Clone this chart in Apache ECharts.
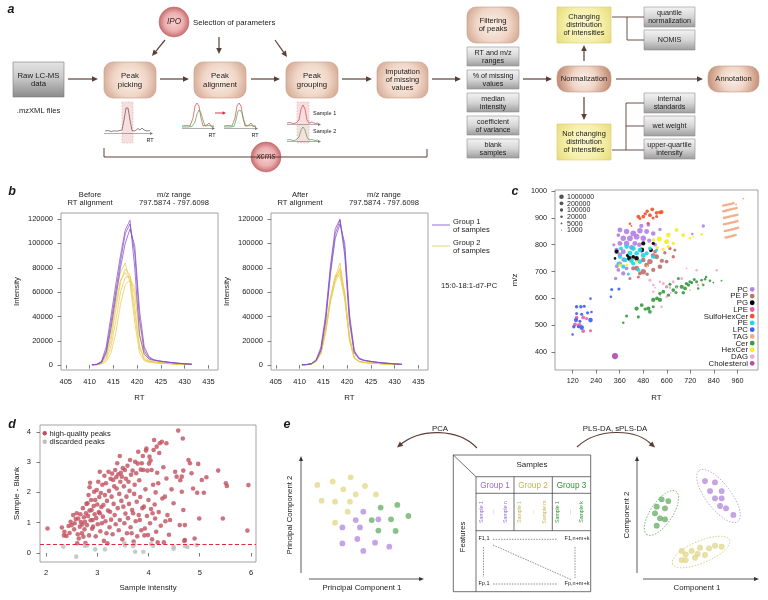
<!DOCTYPE html>
<html><head><meta charset="utf-8">
<script src="https://cdn.jsdelivr.net/npm/echarts@6.0.0/dist/echarts.min.js"></script>
<style>html,body{margin:0;padding:0;background:#fff}#chart{width:768px;height:600px}</style>
</head><body><div id="chart"></div>
<script>
// ================= DATA =================
// Panel b: chromatograms (RT grid + intensity per sample)
const rtGrid = [410.5,411.5,412.5,413.5,414.5,415.5,416.5,417.5,418.5,419.5,420.5,421.5,422.5,423.5,424.5,425.5,426.5,427.5,428.5,429.5,430.5,431.5];
const beforeGroup1 = [
  [300,700,3000,15000,40000,66000,90000,111000,119000,80000,25000,9000,5000,4000,3300,2800,2300,1900,1500,1200,900,700],
  [300,600,2500,12000,35000,60000,85000,108000,116000,92000,38000,12000,6000,4200,3500,2900,2400,2000,1600,1300,1000,800],
  [300,500,2000,10000,30000,55000,80000,100000,112000,98000,45000,15000,7000,4500,3600,3000,2500,2000,1600,1300,1000,800]
];
const beforeGroup2 = [
  [200,500,2500,10000,30000,58000,76000,84000,68000,35000,10000,3500,2500,2000,1700,1400,1200,1000,800,700,600,500],
  [200,400,1500,6000,20000,45000,68000,79000,74000,48000,16000,5000,3000,2300,1900,1600,1300,1100,900,700,600,500],
  [200,400,1200,4500,15000,36000,60000,72000,73000,58000,25000,7000,3500,2500,2000,1700,1400,1100,900,700,600,500],
  [200,300,1000,3000,10000,26000,50000,66000,70000,64000,35000,11000,4500,3000,2300,1800,1500,1200,1000,800,600,500],
  [200,400,1800,7500,24000,50000,70000,76000,70000,42000,14000,4500,2800,2100,1800,1500,1200,1000,800,700,600,500]
];
const afterGroup1 = [
  [300,500,1200,4000,13000,38000,78000,108000,119000,90000,35000,10000,5000,3800,3200,2700,2200,1800,1500,1200,900,700],
  [300,500,1300,4500,15000,42000,82000,112000,120000,95000,38000,11000,5500,4000,3300,2700,2200,1800,1500,1200,900,700],
  [300,500,1100,3800,12000,36000,75000,104000,116000,100000,42000,12000,5800,4200,3400,2800,2300,1900,1500,1200,900,700]
];
const afterGroup2 = [
  [200,400,1000,3500,11000,30000,56000,72000,84000,58000,22000,6000,3000,2300,1900,1600,1300,1100,900,700,600,500],
  [200,400,1000,3300,10000,28000,54000,70000,80000,56000,21000,6000,3000,2300,1900,1600,1300,1100,900,700,600,500],
  [200,400,900,3000,9500,27000,52000,68000,76000,60000,24000,6500,3100,2300,1900,1600,1300,1100,900,700,600,500],
  [200,400,950,3200,10000,28000,53000,74000,73000,54000,20000,5500,2900,2200,1800,1500,1300,1100,900,700,600,500],
  [200,400,1000,3400,10500,29000,55000,71000,78000,57000,22000,6000,3000,2300,1900,1600,1300,1100,900,700,600,500]
];
const rtTicks = [405,410,415,420,425,430,435];
const intensityTicks = [0,20000,40000,60000,80000,100000,120000];

// Panel c: lipid features [RT, m/z, intensity]
const lipidClasses = ['PC','PE P','PG','LPE','SulfoHexCer','PE','LPC','TAG','Cer','HexCer','DAG','Cholesterol'];
const lipidPC = [[361,855,2e6],[395,849,5e6],[429,842,1e7],[463,852,5e6],[497,849,2e6],[531,842,1e6],[378,824,5e6],[412,824,1e7],[446,830,1e7],[480,824,5e6],[361,805,2e6],[395,805,5e6],[437,805,2e6],[344,780,1e6],[378,774,2e6],[361,730,5e5],[353,706,2e5],[339,674,1e5],[378,693,5e5],[395,712,2e5],[565,857,1e5],[506,874,2e5],[353,836,2e5],[786,870,1e5],[361,762,1e6],[420,790,2e6],[460,800,1e6],[510,815,5e5],[330,800,5e4],[470,870,5e5],[540,800,2e5],[380,745,1e6],[345,720,2e5],[730,840,2e4]];
const lipidPEP = [[480,743,1e6],[514,737,5e6],[548,755,2e6],[565,718,1e6],[480,699,5e6],[446,712,2e6],[531,706,5e5],[497,724,2e6],[599,737,2e5],[633,755,1e5],[641,780,5e4],[412,674,5e4],[463,693,2e5],[429,712,5e5],[616,786,1e5],[540,774,2e5],[530,760,1e6],[575,740,5e5],[455,680,5e4],[500,690,1e5],[590,770,1e5]];
const lipidPG = [[344,774,5e5],[336,749,2e4],[409,749,1e6],[446,749,1e6],[472,780,2e6],[480,805,5e5],[519,780,5e5],[531,805,1e5],[429,755,2e5],[400,760,1e5]];
const lipidLPE = [[140,528,2e5],[174,529,2e5],[154,500,1e6],[132,503,2e5],[174,478,2e5],[211,479,5e4],[191,525,5e4]];
const lipidSulfoHexCer = [[412,878,2e4],[455,905,2e5],[526,932,2e5],[565,921,2e5],[505,880,5e4],[463,898,5e4],[514,910,2e5],[548,919,2e5],[548,905,5e4],[574,922,2e5],[490,915,1e5],[480,905,2e5],[420,870,5000],[530,900,5e4],[500,925,1e5]];
const lipidPE = [[395,793,1e6],[429,786,2e6],[463,780,1e6],[412,768,2e6],[446,768,1e6],[361,755,5e5],[387,743,1e6],[378,718,5e5],[404,691,5e4],[463,737,1e6],[497,768,5e5],[531,755,5e5],[514,786,2e5],[455,706,2e5],[429,730,5e5],[353,730,2e5],[548,780,5e4],[366,786,2e5],[480,760,2e6],[420,740,1e6]];
const lipidLPC = [[140,569,1e5],[162,569,1e5],[179,571,5e4],[140,544,5e4],[166,541,5e4],[196,546,5e4],[216,549,2e4],[137,519,5e5],[157,515,5e4],[211,519,1e6],[126,494,1e5],[149,494,5e4],[166,491,1e6],[120,465,2e4],[211,599,2e4],[319,633,5e4],[356,635,5e4],[315,606,2e4]];
const lipidTAG = [[888,946,2e4],[897,947,2e4],[905,949,2e4],[914,950,2e4],[922,952,2e4],[930,953,2e4],[939,955,2e4],
  [888,925,2e4],[897,926,2e4],[905,928,2e4],[914,929,2e4],[922,931,2e4],[930,932,2e4],[939,934,2e4],[948,935,2e4],[956,937,2e4],
  [892,900,2e4],[900,901,2e4],[909,903,2e4],[917,904,2e4],[926,906,2e4],[934,907,2e4],[943,909,2e4],[951,910,2e4],[960,912,2e4],
  [892,876,2e4],[900,877,2e4],[909,879,2e4],[917,880,2e4],[926,882,2e4],[934,883,2e4],[943,885,2e4],[951,886,2e4],[960,888,2e4],
  [896,851,2e4],[904,852,2e4],[913,854,2e4],[921,855,2e4],[930,857,2e4],[938,858,2e4],[947,860,2e4],[955,861,2e4],[964,863,2e4],
  [900,827,2e4],[908,828,2e4],[917,830,2e4],[925,831,2e4],[934,833,2e4],[942,834,2e4],[951,836,2e4],
  [990,972,5000],[953,950,5000]];
const lipidCer = [[378,509,2e4],[395,534,5e4],[446,562,5e5],[472,575,2e5],[506,562,5e5],[514,550,2e5],[531,594,5e5],[565,594,5e5],[582,625,2e5],[608,612,1e5],[633,631,2e5],[659,674,5e4],[676,643,5e5],[693,637,2e5],[710,650,1e5],[727,659,5e4],[752,662,5e4],[777,668,2e4],[795,671,2e4],[820,666,2e4],[837,659,5000],[879,666,5000],[786,650,2e4],[650,643,1e5],[599,643,5e4],[531,569,5e4],[455,531,5e4],[565,618,1e5],[616,653,5e4],[647,622,5e4],[684,621,1e5],[718,662,5e4],[760,637,2e4],[490,560,1e5],[550,600,2e5],[700,655,1e5],[740,670,5e4],[800,680,2e4]];
const lipidHexCer = [[608,836,1e6],[650,855,2e5],[684,836,2e5],[562,821,2e6],[599,811,2e6],[633,805,5e4],[531,818,1e5],[718,824,2e4],[735,830,5000],[778,839,2e4],[608,793,1e5],[582,783,5e4],[551,790,5e4],[361,724,5e4],[395,724,2e4],[446,737,2e4],[500,720,5000]];
const lipidDAG = [[514,668,5e4],[531,650,2e4],[565,662,2e4],[582,655,5e4],[599,643,2e4],[616,640,2e4],[633,662,5e4],[676,674,5e4],[752,705,2e4],[854,705,2e4],[760,650,2e4],[780,655,5000],[531,625,2e4],[573,569,2e4],[599,606,2e4],[620,620,5000],[565,610,5000],[650,640,5000],[718,631,5000],[701,712,5000],[540,640,5000]];
const lipidCholesterol = [[336,385,2e7]];
const sizeLegendValues = [1000000,200000,100000,20000,5000,1000];
const rtTicksC = [120,240,360,480,600,720,840,960];
const mzTicks = [400,500,600,700,800,900,1000];

// Panel d: [sample intensity, sample - blank]
const highQualityPeaks = [[2.03,0.81],[2.31,0.84],[2.35,0.58],[2.36,0.70],[2.40,0.56],[2.44,0.89],[2.46,0.66],[2.48,1.03],[2.50,0.92],[2.53,1.25],[2.55,0.78],[2.56,0.98],[2.58,1.12],[2.60,1.31],[2.61,0.32],[2.62,0.62],[2.63,1.14],[2.64,0.48],[2.66,0.87],[2.67,1.28],[2.68,1.02],[2.70,0.65],[2.71,0.94],[2.72,1.48],[2.73,0.54],[2.74,1.18],[2.75,0.78],[2.76,1.03],[2.77,0.33],[2.78,1.31],[2.79,1.62],[2.80,0.92],[2.81,1.64],[2.82,1.22],[2.83,1.91],[2.84,0.58],[2.85,2.17],[2.85,1.40],[2.86,2.32],[2.87,1.08],[2.88,1.75],[2.89,1.42],[2.90,0.80],[2.91,1.09],[2.92,0.87],[2.93,1.55],[2.94,2.02],[2.95,1.28],[2.96,1.75],[2.97,0.55],[2.98,1.15],[2.99,2.08],[3.00,1.60],[3.01,0.95],[3.02,2.35],[3.03,1.35],[3.04,1.85],[3.05,2.68],[3.05,1.31],[3.06,0.72],[3.07,1.98],[3.08,1.52],[3.09,0.98],[3.10,2.25],[3.11,1.20],[3.12,1.58],[3.13,0.40],[3.14,2.55],[3.15,1.91],[3.16,1.05],[3.17,2.30],[3.18,0.65],[3.19,1.72],[3.20,0.32],[3.21,1.40],[3.22,2.68],[3.23,2.05],[3.24,0.85],[3.25,1.36],[3.26,2.45],[3.27,1.10],[3.28,1.86],[3.29,2.62],[3.30,0.62],[3.31,2.41],[3.32,1.62],[3.33,2.20],[3.34,1.25],[3.35,2.74],[3.36,0.95],[3.37,2.50],[3.38,2.13],[3.39,2.96],[3.40,1.48],[3.41,2.60],[3.42,0.75],[3.43,1.95],[3.44,3.20],[3.44,1.09],[3.45,2.35],[3.46,2.65],[3.47,1.72],[3.48,2.52],[3.49,0.45],[3.50,2.80],[3.51,1.53],[3.52,2.20],[3.53,0.98],[3.54,2.74],[3.55,1.30],[3.56,2.45],[3.57,1.86],[3.58,0.65],[3.59,2.88],[3.60,1.15],[3.61,2.35],[3.62,1.62],[3.63,2.05],[3.64,3.07],[3.65,0.85],[3.66,2.58],[3.67,0.65],[3.68,1.42],[3.69,2.72],[3.70,1.31],[3.71,0.38],[3.72,1.95],[3.73,2.25],[3.74,3.01],[3.75,1.05],[3.76,2.63],[3.77,1.69],[3.78,0.55],[3.79,2.95],[3.80,3.34],[3.81,1.25],[3.82,2.40],[3.83,1.09],[3.84,1.85],[3.85,2.75],[3.86,0.75],[3.87,2.96],[3.88,1.48],[3.89,3.20],[3.90,2.74],[3.91,1.53],[3.92,0.58],[3.93,0.81],[3.94,2.10],[3.95,3.38],[3.96,3.45],[3.97,1.22],[3.98,2.72],[3.99,0.59],[4.00,1.75],[4.01,2.95],[4.02,3.18],[4.03,0.98],[4.04,3.05],[4.05,1.45],[4.06,2.74],[4.07,0.45],[4.08,1.31],[4.09,2.25],[4.10,3.40],[4.11,3.73],[4.12,1.60],[4.13,1.14],[4.14,2.00],[4.15,0.70],[4.16,3.51],[4.17,2.65],[4.18,0.35],[4.19,2.30],[4.20,1.35],[4.21,3.30],[4.22,3.62],[4.24,0.90],[4.26,3.67],[4.27,1.80],[4.29,2.83],[4.30,0.35],[4.32,1.86],[4.33,1.05],[4.35,2.46],[4.35,3.62],[4.37,1.25],[4.40,0.60],[4.42,1.09],[4.45,2.10],[4.49,1.64],[4.52,2.68],[4.55,2.52],[4.58,4.04],[4.61,0.92],[4.62,2.40],[4.65,2.52],[4.65,2.02],[4.67,3.78],[4.68,2.72],[4.68,1.42],[4.70,0.40],[4.71,0.92],[4.71,0.43],[4.78,3.07],[4.81,2.96],[4.84,2.63],[4.87,2.13],[4.90,0.48],[4.95,1.99],[4.97,2.94],[4.99,1.14],[5.04,2.41],[5.08,1.99],[5.13,2.50],[5.36,2.72],[5.45,1.14],[5.51,2.30],[5.53,2.21],[5.95,2.24],[5.93,0.74]];
const discardedPeaks = [[2.34,0.21],[2.59,-0.12],[2.76,0.24],[2.80,0.25],[2.96,0.12],[3.15,0.12],[3.53,0.33],[3.54,0.25],[3.70,0.23],[3.72,0.28],[3.74,0.04],[3.90,0.04],[4.09,0.24],[4.49,0.21],[4.49,0.14],[4.71,0.23],[4.76,0.20],[4.94,0.26],[4.05,0.30]];
const blankThreshold = 0.3;
const intensityTicksD = [2,3,4,5,6];
const diffTicks = [0,1,2,3,4];

// Panel e: schematic PCA / PLS-DA scores (arbitrary units 0-10)
const pcaGroup1 = [[5.07,5.51],[4.41,4.78],[3.25,4.14],[4.78,4.14],[6.38,4.84],[4.55,3.13],[3.25,2.75],[6.09,2.81],[7.33,2.46],[5.07,2.09]];
const pcaGroup2 = [[1.07,7.83],[2.41,8.12],[3.97,8.49],[3.33,7.45],[5.22,7.74],[1.45,6.46],[2.61,6.38],[4.41,7.01],[6.17,7.01],[3.91,6.38],[3.71,5.51],[2.61,4.55]];
const pcaGroup3 = [[6.58,5.86],[8.03,6.09],[8.99,5.13],[5.80,4.78],[7.48,4.84],[6.38,3.86],[7.88,3.83]];
const plsGroup1 = [[5.39,8.17],[6.26,8.06],[5.83,7.30],[6.84,7.30],[6.26,6.67],[6.84,6.67],[6.70,6.00],[7.22,5.80],[7.86,5.22]];
const plsGroup2 = [[3.36,2.09],[4.23,2.09],[4.96,2.38],[5.74,2.32],[6.26,2.55],[6.84,2.46],[3.71,1.80],[4.75,1.83],[5.39,1.74],[4.52,1.51],[3.36,1.30],[3.71,1.30]];
const plsGroup3 = [[1.62,6.58],[2.20,6.43],[1.19,5.94],[1.91,5.80],[1.04,5.36],[1.48,4.93],[1.91,4.84],[1.19,4.29]];

// ================= STYLE =================
const FONT = "'Liberation Sans', Arial, sans-serif";
const BROWN = '#5b3f37';
const PURPLE_B = 'rgba(128,72,196,0.8)', YELLOW_B = 'rgba(232,204,80,0.85)';
const lipidColors = {'PC':'#b383e3','PE P':'#c07272','PG':'#000000','LPE':'#ea5fa8','SulfoHexCer':'#f1552f','PE':'#22d6e4','LPC':'#3d62ee','TAG':'#f1aa84','Cer':'#3c9a42','HexCer':'#f2ee22','DAG':'#f3aad0','Cholesterol':'#b04fb2'};
const lipidData = {'PC':lipidPC,'PE P':lipidPEP,'PG':lipidPG,'LPE':lipidLPE,'SulfoHexCer':lipidSulfoHexCer,'PE':lipidPE,'LPC':lipidLPC,'TAG':lipidTAG,'Cer':lipidCer,'HexCer':lipidHexCer,'DAG':lipidDAG,'Cholesterol':lipidCholesterol};
const sizeOf = v => Math.max(1, 1.2*Math.log10(v) - 2.6);
const G1C = '#b58ddd', G2C = '#e3d98c', G3C = '#6cb26c';

// ================= GRAPHIC HELPERS =================
const G = [];
function add(e){ if(Array.isArray(e)) G.push(...e); else G.push(e); }
function txt(x,y,s,o){ o=o||{}; const size=o.size||7.8;
  return {type:'text', x:x, y:y, rotation:o.rot||0, z:o.z||120,
    style:{text:s, x:0, y:0, fill:o.color||'#1a1a1a',
      font:(o.style||'normal')+' '+(o.weight||'normal')+' '+size+'px '+FONT,
      align:o.align||'center', verticalAlign:o.va||'middle', textAlign:o.align||'center', textVerticalAlign:o.va||'middle',
      lineHeight:o.lh||size*1.05}};
}
function line(x1,y1,x2,y2,color,lw,dash){ return {type:'line', z:110, shape:{x1,y1,x2,y2}, style:{stroke:color||BROWN, lineWidth:lw||1, lineDash:dash||null}}; }
function poly(points,color,lw,dash){ return {type:'polyline', z:110, shape:{points}, style:{stroke:color, fill:null, lineWidth:lw||0.7, lineDash:dash||null}}; }
function arrow(x1,y1,x2,y2,color,lw,hl,hw){ color=color||BROWN; lw=lw||1.2; hl=hl||6; hw=hw||2.8;
  const a=Math.atan2(y2-y1,x2-x1), bx=x2-hl*Math.cos(a), by=y2-hl*Math.sin(a);
  return [line(x1,y1,bx,by,color,lw), {type:'polygon', z:111, shape:{points:[[x2,y2],[bx+hw*Math.sin(a),by-hw*Math.cos(a)],[bx-hw*Math.sin(a),by+hw*Math.cos(a)]]}, style:{fill:color}}];
}
function head(x2,y2,a,color,hl,hw){ const bx=x2-hl*Math.cos(a), by=y2-hl*Math.sin(a);
  return {type:'polygon', z:111, shape:{points:[[x2,y2],[bx+hw*Math.sin(a),by-hw*Math.cos(a)],[bx-hw*Math.sin(a),by+hw*Math.cos(a)]]}, style:{fill:color}}; }
const fills = {
  peach: () => new echarts.graphic.RadialGradient(0.5,0.5,1.0,[{offset:0,color:'#fbefe7'},{offset:0.45,color:'#f0d6c7'},{offset:1,color:'#c28b72'}]),
  grey: () => new echarts.graphic.LinearGradient(0,0,0,1,[{offset:0,color:'#e4e4e4'},{offset:0.45,color:'#c9c9c9'},{offset:1,color:'#8a8a8a'}]),
  lgrey: () => new echarts.graphic.LinearGradient(0,0,0,1,[{offset:0,color:'#f4f4f4'},{offset:0.5,color:'#d6d6d6'},{offset:1,color:'#9c9c9c'}]),
  yellow: () => new echarts.graphic.RadialGradient(0.5,0.5,1.0,[{offset:0,color:'#fbf8d6'},{offset:0.5,color:'#f5efa8'},{offset:1,color:'#e2d66a'}])
};
const strokes = {peach:'#c99a84', grey:'#7a7a7a', lgrey:'#8d8d8d', yellow:'#d8cf78'};
function box(x,y,w,h,kind,label,r,size){
  add({type:'rect', z:100, shape:{x,y,width:w,height:h,r:r||0}, style:{fill:fills[kind](), stroke:strokes[kind], lineWidth:0.6}});
  add(txt(x+w/2,y+h/2+0.3,label,{size:size||7.6, lh:(size||7.6)*1.08}));
}
function bubble(cx,cy,r,label){
  add({type:'circle', z:100, shape:{cx,cy,r}, style:{fill:new echarts.graphic.RadialGradient(0.5,0.5,0.5,[{offset:0,color:'#f7d2d2'},{offset:0.6,color:'#eab0b0'},{offset:1,color:'#c8686a'}]), stroke:'#c06a6a', lineWidth:0.6}});
  add(txt(cx,cy,label,{style:'italic', size:8.2, color:'#4a2020'}));
}

// ================= PANEL a =================
add(txt(11,10,'a',{style:'italic',weight:'bold',size:12.5}));
bubble(174,22,15,'IPO');
add(txt(193,22.5,'Selection of parameters',{align:'left',size:7.8}));
add(arrow(165,40,152,56)); add(arrow(219,37,219,54)); add(arrow(275,40,287,57));
box(13,62,51,35,'grey','Raw LC-MS\ndata',0,7.8);
add(txt(38.5,111,'.mzXML files',{size:7.6}));
box(104,62,52,36,'peach','Peak\npicking',9,7.8);
box(194,62,52,36,'peach','Peak\nalignment',9,7.8);
box(286,62,52,36,'peach','Peak\ngrouping',9,7.8);
box(377,62,51,36,'peach','Imputation\nof missing\nvalues',9,7.4);
add(arrow(68,79,98,79)); add(arrow(160,79,189,79)); add(arrow(251,79,280,79)); add(arrow(342,79,372,79)); add(arrow(432,79,461,79));
box(467,7,52,36,'peach','Filtering\nof peaks',9,7.6);
box(467,47,52,19,'lgrey','RT and m/z\nranges',0,7.2);
box(467,70,52,19,'lgrey','% of missing\nvalues',0,7.2);
box(467,93,52,19,'lgrey','median\nintensity',0,7.2);
box(467,116,52,19,'lgrey','coefficient\nof variance',0,7.2);
box(467,139,52,19,'lgrey','blank\nsamples',0,7.2);
add(arrow(523,79,552,79));
box(557,66,54,26,'peach','Normalization',10,7.6);
box(557,7,54,36,'yellow','Changing\ndistribution\nof intensities',0,7.4);
box(557,124,54,36,'yellow','Not changing\ndistribution\nof intensities',0,7.4);
add(arrow(584,61,584,45)); add(arrow(584,97,584,120));
box(644,7,51,20,'lgrey','quantile\nnormalization',0,7.2);
box(644,30,51,20,'lgrey','NOMIS',0,7.2);
box(644,93,51,20,'lgrey','internal\nstandards',0,7.2);
box(644,116,51,20,'lgrey','wet weight',0,7.2);
box(644,139,51,20,'lgrey','upper-quartile\nintensity',0,7.2);
add(line(612,17,644,17,BROWN,0.9)); add(line(627,17,627,40,BROWN,0.9)); add(line(627,40,644,40,BROWN,0.9));
add(line(612,150,626,150,BROWN,0.9)); add(line(626,103,626,150,BROWN,0.9));
add(line(626,103,644,103,BROWN,0.9)); add(line(626,126,644,126,BROWN,0.9)); add(line(626,150,644,150,BROWN,0.9));
add(arrow(616,79,703,79));
box(708,66,51,26,'peach','Annotation',10,7.6);
add(poly([[104,148],[104,157],[427,157],[427,149]],BROWN,1));
bubble(266,157,15,'xcms');
// mini chromatograms
const pinkFill='rgba(240,185,185,0.45)';
add({type:'rect', z:105, shape:{x:122,y:102,width:11,height:41}, style:{fill:pinkFill, stroke:'#d99', lineWidth:0.5, lineDash:[1.5,1.5]}});
add(poly([[105,131],[108,130.5],[111,131.5],[114,130.8],[117,131.2],[120,130.5],[122,130],[124,120],[126,108],[128,108],[130,120],[132,130.5],[135,131],[138,128.5],[140,130],[142,128],[144,130],[147,131],[150,130.5]],'#6a4a44',0.7));
add(arrow(104,133.5,153,133.5,'#777',0.6,3,1.5)); add(txt(150,140,'RT',{size:5.5}));
add(poly([[182,126],[186,125.5],[190,126],[193,118],[195,106],[197,103],[199,106],[201,118],[203,126],[207,125],[209,123],[211,126],[214,126]],'#d0454a',0.7));
add(poly([[182,127],[188,127],[192,126.5],[195,122],[197,114],[199,110],[201,113],[203,120],[205,126],[209,125.5],[214,127]],'#4aa04a',0.7));
add(arrow(182,128.5,215,128.5,'#777',0.6,3,1.5)); add(txt(212,135,'RT',{size:5.5}));
add(arrow(215,113,226,113,'#cc2a2a',0.9,3.5,1.8));
add(poly([[224,126],[228,125.5],[232,126],[235,118],[237,106],[239,103],[241,106],[243,118],[245,126],[249,125],[251,123],[253,126],[256,126]],'#d0454a',0.7));
add(poly([[224,127],[230,127],[234,126.5],[236,120],[238,111],[240,110],[242,113],[244,121],[246,126],[251,125.5],[256,127]],'#4aa04a',0.7));
add(arrow(224,128.5,258,128.5,'#777',0.6,3,1.5)); add(txt(255,135,'RT',{size:5.5}));
add({type:'rect', z:105, shape:{x:297,y:102,width:12,height:41}, style:{fill:pinkFill, stroke:'#d99', lineWidth:0.5, lineDash:[1.5,1.5]}});
add(poly([[287,123],[290,122.5],[293,123.5],[296,123],[299,120],[301,109],[303,105],[305,109],[307,120],[309,123],[312,122],[315,123.5],[318,123]],'#d0454a',0.7));
add(arrow(287,124.5,321,124.5,'#777',0.6,3,1.5));
add(poly([[287,140],[290,139.5],[293,140.5],[296,140],[299,137],[301,130],[303,127],[305,130],[307,137],[309,140],[312,139.5],[315,140.5],[318,140]],'#4aa04a',0.7));
add(arrow(287,141.5,321,141.5,'#777',0.6,3,1.5));
add(txt(313,113,'Sample 1',{size:5.5,align:'left'})); add(txt(313,131,'Sample 2',{size:5.5,align:'left'}));

// ================= PANEL b texts =================
add(txt(12,192,'b',{style:'italic',weight:'bold',size:12.5}));
add(txt(90,199,'Before\nRT alignment',{size:7.6,lh:8.2}));
add(txt(174,199,'m/z range\n797.5874 - 797.6098',{size:7.6,lh:8.2}));
add(txt(300,199,'After\nRT alignment',{size:7.6,lh:8.2}));
add(txt(384,199,'m/z range\n797.5874 - 797.6098',{size:7.6,lh:8.2}));
add(line(432,225,450,225,PURPLE_B,1)); add(line(432,246,450,246,YELLOW_B,1));
add(txt(453,225.5,'Group 1\nof samples',{size:7.6,align:'left',lh:8}));
add(txt(453,246.5,'Group 2\nof samples',{size:7.6,align:'left',lh:8}));
add(txt(441,286,'15:0-18:1-d7-PC',{size:7.6,align:'left'}));

// ================= PANEL c legends =================
add(txt(515,192,'c',{style:'italic',weight:'bold',size:12.5}));
sizeLegendValues.forEach((v,i)=>{ const y=196.7+i*6.67;
  add({type:'circle', z:115, shape:{cx:561.5,cy:y,r:sizeOf(v)/2}, style:{fill:'#555'}});
  add(txt(567,y+0.3,String(v),{size:7,align:'left'}));
});
lipidClasses.forEach((c,i)=>{ const y=289.3+i*6.73;
  add(txt(748,y+0.3,c,{size:7.8,align:'right'}));
  add({type:'circle', z:115, shape:{cx:752.2,cy:y,r:2.4}, style:{fill:lipidColors[c]}});
});

// ================= PANEL d legend =================
add(txt(12,425,'d',{style:'italic',weight:'bold',size:12.5}));
add({type:'circle', z:115, shape:{cx:44.7,cy:433.3,r:2.2}, style:{fill:'#c0505e'}});
add(txt(49.5,433.6,'high-quality peaks',{size:7.6,align:'left'}));
add({type:'circle', z:115, shape:{cx:44.7,cy:441.7,r:2.2}, style:{fill:'#bdbdbd'}});
add(txt(49.5,442,'discarded peaks',{size:7.6,align:'left'}));

// ================= PANEL e =================
add(txt(287,425,'e',{style:'italic',weight:'bold',size:12.5}));
add(txt(440,429,'PCA',{size:7.8}));
add(txt(615,429,'PLS-DA, sPLS-DA',{size:7.8}));
add({type:'bezierCurve', z:110, shape:{x1:477,y1:448,x2:400,y2:445,cpx1:458,cpy1:428,cpx2:420,cpy2:428}, style:{stroke:BROWN, lineWidth:1.1, fill:null}});
add(head(397,447.5,Math.atan2(447.5-430,397-418),BROWN,6,2.8));
add({type:'bezierCurve', z:110, shape:{x1:577,y1:447,x2:652,y2:445,cpx1:597,cpy1:428,cpx2:636,cpy2:428}, style:{stroke:BROWN, lineWidth:1.1, fill:null}});
add(head(655,447.5,Math.atan2(447.5-430,655-636),BROWN,6,2.8));
add(arrow(301,573,301,456,'#333',0.8,5,2)); add(arrow(309,579,424,579,'#333',0.8,5,2));
add(arrow(637,573,637,456,'#333',0.8,5,2)); add(arrow(643,579,759,579,'#333',0.8,5,2));
add(txt(362,588,'Principal Component 1',{size:7.8}));
add(txt(290,515,'Principal Component 2',{size:7.8,rot:Math.PI/2}));
add(txt(697,588,'Component 1',{size:7.8}));
add(txt(627,515,'Component 2',{size:7.8,rot:Math.PI/2}));
// ellipses
add({type:'ellipse', z:90, x:661.5, y:513, rotation:0.98, shape:{cx:0,cy:0,rx:26,ry:11}, style:{fill:null, stroke:'#6ab06a', lineWidth:0.8, lineDash:[1.5,1.5]}});
add({type:'ellipse', z:90, x:718.5, y:496, rotation:-0.92, shape:{cx:0,cy:0,rx:32,ry:12.5}, style:{fill:null, stroke:'#b6a0dc', lineWidth:0.8, lineDash:[1.5,1.5]}});
add({type:'ellipse', z:90, x:701, y:552, rotation:0.4, shape:{cx:0,cy:0,rx:31,ry:11}, style:{fill:null, stroke:'#d4cc78', lineWidth:0.8, lineDash:[1.5,1.5]}});
// table
const TS='#333';
add({type:'rect', z:100, shape:{x:453.3,y:455,width:137.4,height:136.7}, style:{fill:'#fff', stroke:TS, lineWidth:0.7}});
add(line(476,476.7,476,591.7,TS,0.7)); add(line(476,476.7,590.7,476.7,TS,0.7));
add(line(453.3,455,476,476.7,TS,0.7));
add(line(476,493.3,590.7,493.3,TS,0.7)); add(line(476,530.7,590.7,530.7,TS,0.7));
add(line(514,476.7,514,530.7,TS,0.7)); add(line(552.3,476.7,552.3,530.7,TS,0.7));
add(txt(532,465,'Samples',{size:8}));
add(txt(495,486,'Group 1',{size:8.2,color:'#9a6dd0'}));
add(txt(533,486,'Group 2',{size:8.2,color:'#c2b755'}));
add(txt(571.5,486,'Group 3',{size:8.2,color:'#2e962e'}));
const sampCols=[[481.7,493,506,'#9a6dd0','n'],[520,533,545,'#c2b755','m'],[558,570,582,'#2e962e','k']];
sampCols.forEach(s=>{ add(txt(s[0],512,'Sample 1',{size:5.2,rot:Math.PI/2,color:s[3]})); add(txt(s[1],512,'...',{size:5.2,rot:Math.PI/2,color:s[3]})); add(txt(s[2],512,'Sample '+s[4],{size:5.2,rot:Math.PI/2,color:s[3]})); });
add(txt(463.3,537,'Features',{size:7.8,rot:Math.PI/2}));
add(txt(484,538,'F1,1',{size:5.5})); add(txt(577,538,'F1,n+m+k',{size:5.5}));
add(txt(484,583.5,'Fp,1',{size:5.5})); add(txt(577,583.5,'Fp,n+m+k',{size:5.5}));
add(line(493,539.3,557,539.3,'#444',0.6,[1.5,1.2])); add(line(493,584,557,584,'#444',0.6,[1.5,1.2]));
add(line(483.5,547,483.5,577,'#444',0.6,[1.5,1.2])); add(line(575,547,575,578,'#444',0.6,[1.5,1.2]));
add(line(493,545,572,580,'#444',0.6,[1.5,1.2]));

// ================= ECHARTS OPTION =================
const axisFont = {fontFamily:FONT, fontSize:7.5, color:'#1a1a1a'};
function valAxis(grid,min,max,ticks,opts){ opts=opts||{};
  return Object.assign({type:'value', gridIndex:grid, min, max, splitLine:{show:false}, axisLine:{show:false},
    axisTick:{show:true, length:3.5, lineStyle:{color:'#444',width:0.7}, customValues:ticks},
    axisLabel:Object.assign({show:true, customValues:ticks, formatter:v=>String(v), margin:opts.margin||8}, axisFont, opts.labelSize?{fontSize:opts.labelSize}:{}),
    nameTextStyle:Object.assign({}, axisFont, {fontSize:7.8})}, opts.extra||{});
}
const gridStyle = {show:true, borderColor:'#8a8a8a', borderWidth:0.8, backgroundColor:'transparent'};
const series = [];
function lines(groups,color,xi){ groups.forEach(vals=>series.push({type:'line', xAxisIndex:xi, yAxisIndex:xi, showSymbol:false, silent:true,
  data:rtGrid.map((rt,i)=>[rt,vals[i]]), lineStyle:{color,width:0.9}, itemStyle:{color}})); }
lines(beforeGroup2,YELLOW_B,0); lines(beforeGroup1,PURPLE_B,0);
lines(afterGroup2,YELLOW_B,1); lines(afterGroup1,PURPLE_B,1);
lipidClasses.forEach(c=>series.push({type:'scatter', name:c, xAxisIndex:2, yAxisIndex:2, data:lipidData[c],
  symbolSize:d=>sizeOf(d[2]), itemStyle:{color:lipidColors[c], opacity:0.92}, silent:true}));
series.push({type:'scatter', xAxisIndex:3, yAxisIndex:3, data:highQualityPeaks, symbolSize:4.6, itemStyle:{color:'#c0505e'}, silent:true});
series.push({type:'scatter', xAxisIndex:3, yAxisIndex:3, data:discardedPeaks, symbolSize:4.6, itemStyle:{color:'#bdbdbd'}, silent:true,
  markLine:{silent:true, symbol:'none', label:{show:false}, lineStyle:{color:'#e0283a', type:[4,2.5], width:1.1}, data:[{yAxis:blankThreshold}]}});
[[pcaGroup1,G1C],[pcaGroup2,G2C],[pcaGroup3,G3C]].forEach(p=>series.push({type:'scatter', xAxisIndex:4, yAxisIndex:4, data:p[0], symbolSize:5.8, itemStyle:{color:p[1]}, silent:true}));
[[plsGroup1,G1C],[plsGroup2,G2C],[plsGroup3,G3C]].forEach(p=>series.push({type:'scatter', xAxisIndex:5, yAxisIndex:5, data:p[0], symbolSize:5.8, itemStyle:{color:p[1], borderColor:'rgba(0,0,0,0.12)', borderWidth:0.3}, silent:true}));

const option = {
  animation:false, backgroundColor:'#fff',
  grid:[
    Object.assign({left:61, top:213, width:157, height:157}, gridStyle),
    Object.assign({left:271, top:213, width:157, height:157}, gridStyle),
    Object.assign({left:555, top:190, width:203, height:180}, gridStyle),
    Object.assign({left:40, top:425, width:216, height:137}, gridStyle),
    {left:305, top:460, width:115, height:115, show:false},
    {left:643, top:460, width:115, height:115, show:false}
  ],
  xAxis:[
    valAxis(0,404,437,rtTicks,{margin:8, extra:{name:'RT', nameLocation:'middle', nameGap:24}}),
    valAxis(1,404,437,rtTicks,{margin:8, extra:{name:'RT', nameLocation:'middle', nameGap:24}}),
    valAxis(2,30,1065,rtTicksC,{margin:8, labelSize:7.2, extra:{name:'RT', nameLocation:'middle', nameGap:24}}),
    valAxis(3,1.883,6.098,intensityTicksD,{margin:7, extra:{name:'Sample intensity', nameLocation:'middle', nameGap:22}}),
    {type:'value', gridIndex:4, min:0, max:10, show:false},
    {type:'value', gridIndex:5, min:0, max:10, show:false}
  ],
  yAxis:[
    valAxis(0,-4000,125000,intensityTicks,{margin:8, extra:{name:'Intensity', nameLocation:'middle', nameGap:40}}),
    valAxis(1,-4000,125000,intensityTicks,{margin:8, extra:{name:'Intensity', nameLocation:'middle', nameGap:40}}),
    valAxis(2,333,1004,mzTicks,{margin:8, labelSize:7.2, extra:{name:'m/z', nameLocation:'middle', nameGap:36}}),
    valAxis(3,-0.297,4.224,diffTicks,{margin:9, extra:{name:'Sample - Blank', nameLocation:'middle', nameGap:19}}),
    {type:'value', gridIndex:4, min:0, max:10, show:false},
    {type:'value', gridIndex:5, min:0, max:10, show:false}
  ],
  series:series,
  graphic:{elements:G}
};
const chart = echarts.init(document.getElementById('chart'), null, {renderer:'canvas', width:768, height:600});
chart.setOption(option);
</script></body></html>
